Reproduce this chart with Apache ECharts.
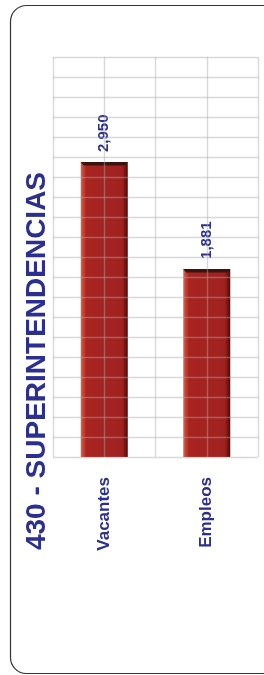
<!DOCTYPE html>
<html>
<head>
<meta charset="utf-8">
<script src="https://cdn.jsdelivr.net/npm/echarts@6/dist/echarts.min.js"></script>
<style>
  html, body { margin: 0; padding: 0; background: #fff; }
  #chart { width: 264px; height: 675px; }
</style>
</head>
<body>
<div id="chart"></div>
<script>
// datos del grafico
var titulo = '430 - SUPERINTENDENCIAS';
var categorias = ['Vacantes', 'Empleos'];
var valores = [2950, 1881];
var ejeMax = 4000;
var ejePaso = 200;

var azul = '#2b2f8f';
var fuente = '"Liberation Sans", Arial, sans-serif';
var anchoBarra = 47;

// relleno tipo 3D del excel
var relleno = new echarts.graphic.LinearGradient(0, 0, 1, 0, [
    {offset: 0, color: '#e0614a'},
    {offset: 0.07, color: '#c23a2c'},
    {offset: 0.12, color: '#a82420'},
    {offset: 0.88, color: '#a02220'},
    {offset: 0.94, color: '#7a1714'},
    {offset: 1, color: '#3e0c0a'}
]);

var option = {
    animation: false,
    graphic: [
        {
            type: 'rect',
            shape: {x: 10.5, y: 5.5, width: 280, height: 668, r: 16},
            style: {fill: 'none', stroke: '#333', lineWidth: 1.2},
            z: -1
        },
        {
            type: 'text',
            x: 37, y: 361,
            rotation: Math.PI / 2,
            style: {
                text: titulo,
                fill: azul,
                font: 'bold 28px ' + fuente,
                align: 'center',
                verticalAlign: 'middle'
            }
        }
    ],
    grid: {left: 53, right: 6, top: 57, bottom: 218, containLabel: false},
    xAxis: [
        {
            type: 'category',
            data: categorias,
            axisLine: {show: false},
            axisTick: {show: false},
            axisLabel: {
                rotate: 90,
                margin: 20,
                color: azul,
                fontWeight: 'bold',
                fontSize: 17,
                fontFamily: fuente
            }
        },
        {
            // solo para las lineas verticales de la cuadricula
            type: 'value',
            min: 0, max: 4, interval: 1,
            position: 'top',
            z: 5,
            axisLine: {show: false},
            axisTick: {show: false},
            axisLabel: {show: false},
            splitLine: {show: true, lineStyle: {color: 'rgba(170,170,170,0.45)', width: 1.4}}
        }
    ],
    yAxis: {
        type: 'value',
        min: 0, max: ejeMax, interval: ejePaso,
        z: 5,
        axisLine: {show: false},
        axisTick: {show: false},
        axisLabel: {show: false},
        splitLine: {show: true, lineStyle: {color: 'rgba(170,170,170,0.45)', width: 1.4}}
    },
    series: [
        {
            type: 'bar',
            data: valores,
            barWidth: anchoBarra,
            itemStyle: {color: relleno},
            label: {
                show: true,
                position: 'top',
                rotate: 90,
                align: 'left',
                verticalAlign: 'middle',
                distance: 10,
                color: azul,
                fontWeight: 'bold',
                fontSize: 15,
                fontFamily: fuente,
                formatter: function (p) {
                    return p.value.toLocaleString('en-US');
                }
            }
        },
        {
            // franja oscura arriba de cada barra (efecto bisel)
            type: 'custom',
            data: valores,
            silent: true,
            z: 3,
            renderItem: function (params, api) {
                var p = api.coord([api.value(0), api.value(1)]);
                var w = anchoBarra / 2;
                return {
                    type: 'polygon',
                    shape: {points: [
                        [p[0] - w, p[1]], [p[0] + w, p[1]],
                        [p[0] + w - 3, p[1] + 3.5], [p[0] - w + 3, p[1] + 3.5]
                    ]},
                    style: {fill: '#3a140f'}
                };
            },
            encode: {x: 0, y: 1}
        }
    ]
};

// custom necesita [indice, valor]
option.series[1].data = valores.map(function (v, i) { return [i, v]; });

var myChart = echarts.init(document.getElementById('chart'));
myChart.setOption(option);
</script>
</body>
</html>
